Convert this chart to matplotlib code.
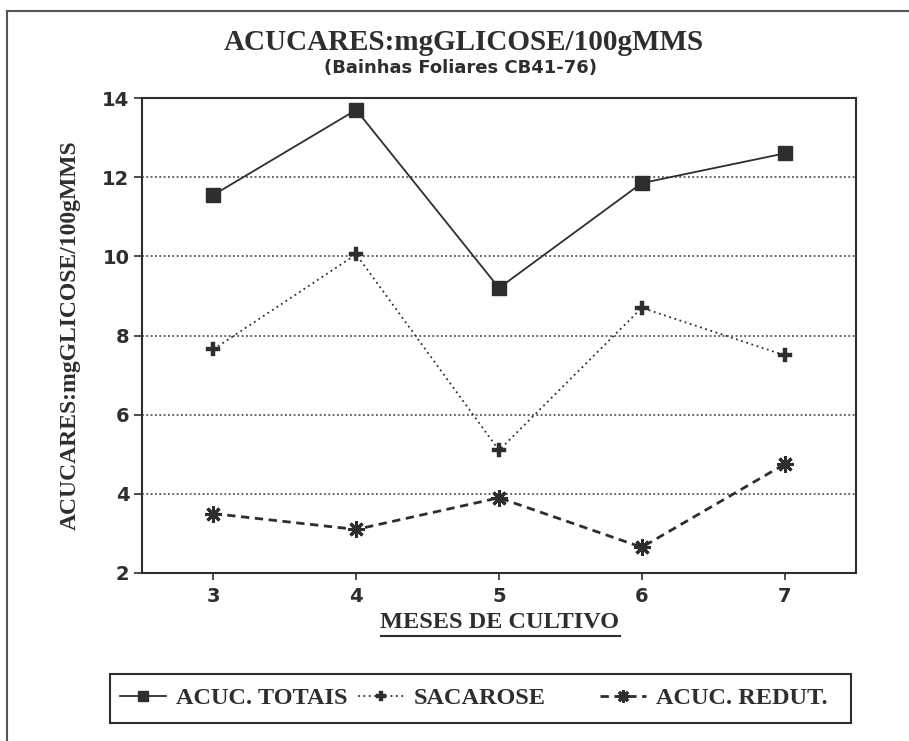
import matplotlib
matplotlib.use("Agg")
import matplotlib.pyplot as plt
from matplotlib.lines import Line2D
from matplotlib.patches import Rectangle

# Data: sugar content (mg glucose / 100 g dry matter) by month of cultivation
meses = [3, 4, 5, 6, 7]
acuc_totais = [11.55, 13.7, 9.2, 11.85, 12.6]
sacarose = [7.65, 10.05, 5.1, 8.7, 7.5]
acuc_redut = [3.5, 3.1, 3.9, 2.65, 4.75]

y_ticks = [2, 4, 6, 8, 10, 12, 14]
titulo = "ACUCARES:mgGLICOSE/100gMMS"
subtitulo = "(Bainhas Foliares CB41-76)"
eixo_x = "MESES DE CULTIVO"
eixo_y = "ACUCARES:mgGLICOSE/100gMMS"
rotulos = ["ACUC. TOTAIS", "SACAROSE", "ACUC. REDUT."]

INK = "#2e2e2e"
GRID = "#555555"
SERIF = ["Liberation Serif", "DejaVu Serif"]
SANS = ["DejaVu Sans"]

W, H = 909, 741
fig = plt.figure(figsize=(W / 100, H / 100), dpi=100, facecolor="white")

def fx(px):
    return px / W

def fy(py):
    return 1 - py / H

ax = fig.add_axes([fx(142), fy(573), fx(856) - fx(142), fy(98) - fy(573)])
ax.set_xlim(2.5, 7.5)
ax.set_ylim(2, 14)

# horizontal dotted grid
for v in y_ticks[1:-1]:
    ax.axhline(v, color=GRID, lw=1.3, ls=(0, (1, 1.4)), zorder=1)

l1, = ax.plot(meses, acuc_totais, color=INK, lw=1.3, marker="s", ms=10,
              mfc=INK, mec=INK, zorder=3)
l2, = ax.plot(meses, sacarose, color=INK, lw=1.3, ls=(0, (1, 2)), marker="P",
              ms=10, mfc=INK, mec=INK, mew=0.3, zorder=3)
l3, = ax.plot(meses, acuc_redut, color=INK, lw=2.0, ls=(0, (3, 2)),
              marker=(8, 2, 0), ms=12, mec=INK, mew=2.2, zorder=3)

ax.set_xticks(meses)
ax.set_yticks(y_ticks)
ax.tick_params(axis="y", direction="out", length=6, width=1.2, color=INK,
               pad=3, labelsize=14, labelcolor=INK)
ax.tick_params(axis="x", direction="out", length=5, width=1.2, color=INK,
               pad=5, labelsize=14, labelcolor=INK)
for lab in ax.get_xticklabels() + ax.get_yticklabels():
    lab.set_family(SANS)
    lab.set_fontweight("bold")
for sp in ax.spines.values():
    sp.set_color(INK)
    sp.set_linewidth(1.5)

ax.set_ylabel(eixo_y, family=SERIF, fontweight="bold", fontsize=17,
              color=INK, va="center")
ax.yaxis.set_label_coords((70 - 142) / 714, 0.5)
xl = ax.set_xlabel(eixo_x, family=SERIF, fontweight="bold", fontsize=17.5,
                   color=INK, va="center")
ax.xaxis.set_label_coords((500 - 142) / 714, -(623 - 573) / 475)

fig.text(fx(464), fy(42), titulo, family=SERIF, fontweight="bold",
         fontsize=21, color=INK, ha="center", va="center")
fig.text(fx(460), fy(68), subtitulo, family=SANS, fontweight="bold",
         fontsize=13, color=INK, ha="center", va="center")

# legend: framed box holding three entries
fig.add_artist(Rectangle((fx(110), fy(723)), fx(851) - fx(110),
                         fy(674) - fy(723), transform=fig.transFigure,
                         fill=False, ec=INK, lw=1.5))
starts = [120, 358, 600]
for h, lab, x0 in zip([l1, l2, l3], rotulos, starts):
    leg = fig.legend([h], [lab], loc="center left",
                     bbox_to_anchor=(fx(x0), fy(698)), frameon=False,
                     borderpad=0, borderaxespad=0, handlelength=1.9,
                     handletextpad=0.4, numpoints=1, markerscale=0.75,
                     prop={"family": SERIF, "weight": "bold", "size": 17.5})
    for t in leg.get_texts():
        t.set_color(INK)

# outer frame (left and top edges)
fig.add_artist(Line2D([fx(7), fx(7)], [fy(740), fy(11)],
                      transform=fig.transFigure, color="#555555", lw=1.5))
fig.add_artist(Line2D([fx(7), 1], [fy(11), fy(11)],
                      transform=fig.transFigure, color="#555555", lw=1.5))

# underline the x-axis title
fig.canvas.draw()
bb = xl.get_window_extent()
fig.add_artist(Line2D([bb.x0 / W, bb.x1 / W], [(bb.y0 - 2) / H, (bb.y0 - 2) / H],
                      transform=fig.transFigure, color=INK, lw=1.5))

fig.savefig("out.png", dpi=100, facecolor="white")
